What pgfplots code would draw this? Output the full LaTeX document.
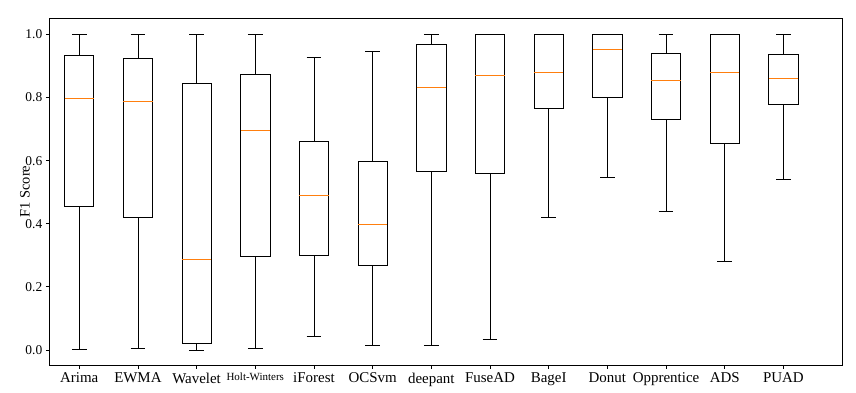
\documentclass[border=0pt]{standalone}
\usepackage{pgfplots}
\pgfplotsset{compat=1.18}
\usepgfplotslibrary{statistics}
\usepackage{fontspec}
\setmainfont{Liberation Serif}
\definecolor{mplorange}{HTML}{FF7F0E}
\begin{document}
\begin{tikzpicture}
\path[use as bounding box] (-49.3bp,-28bp) rectangle (806.7bp,365bp);
\begin{axis}[
  at={(0,0)}, anchor=south west,
  scale only axis, width=793.4bp, height=346.7bp,
  xmin=0.49, xmax=14.01, ymin=-0.0475, ymax=1.051,
  xtick={1,...,13},
  xticklabels={Arima,EWMA,Wavelet,{\fontsize{11}{11}\selectfont Holt-Winters},iForest,OCSvm,deepant,FuseAD,BageI,Donut,Opprentice,ADS,PUAD},
  ytick={0,0.2,0.4,0.6,0.8,1.0},
  yticklabel style={/pgf/number format/fixed,/pgf/number format/fixed zerofill,/pgf/number format/precision=1},
  /pgf/number format/assume math mode=true,
  tick align=outside, tick pos=left, major tick length=3.5bp,
  every tick/.style={black, line width=0.8bp},
  axis line style={line width=0.8bp},
  xticklabel style={font=\fontsize{15}{15}\selectfont, yshift=-1bp},
  yticklabel style={font=\fontsize{13.5}{14}\selectfont},
  ylabel={F1 Score},
  ylabel style={at={(axis description cs:-0.0307,0.5)}, anchor=center, font=\fontsize{14.5}{15}\selectfont},
  boxplot/draw direction=y,
  boxplot/box extend=0.5, boxplot/whisker extend=0.25,
  boxplot/every median/.style={draw=mplorange, line width=0.9bp},
  every axis plot/.append style={black, line width=0.8bp, solid},
]
\addplot[black, boxplot prepared={draw position=1, lower whisker=0.002, lower quartile=0.456, median=0.797, upper quartile=0.933, upper whisker=1.0}] coordinates {};
\addplot[black, boxplot prepared={draw position=2, lower whisker=0.005, lower quartile=0.420, median=0.789, upper quartile=0.924, upper whisker=1.0}] coordinates {};
\addplot[black, boxplot prepared={draw position=3, lower whisker=0.000, lower quartile=0.021, median=0.287, upper quartile=0.845, upper whisker=1.0}] coordinates {};
\addplot[black, boxplot prepared={draw position=4, lower whisker=0.005, lower quartile=0.297, median=0.697, upper quartile=0.873, upper whisker=1.0}] coordinates {};
\addplot[black, boxplot prepared={draw position=5, lower whisker=0.044, lower quartile=0.300, median=0.490, upper quartile=0.661, upper whisker=0.927}] coordinates {};
\addplot[black, boxplot prepared={draw position=6, lower whisker=0.015, lower quartile=0.267, median=0.399, upper quartile=0.598, upper whisker=0.945}] coordinates {};
\addplot[black, boxplot prepared={draw position=7, lower whisker=0.015, lower quartile=0.566, median=0.832, upper quartile=0.968, upper whisker=1.0}] coordinates {};
\addplot[black, boxplot prepared={draw position=8, lower whisker=0.034, lower quartile=0.560, median=0.870, upper quartile=1.0, upper whisker=1.0}] coordinates {};
\addplot[black, boxplot prepared={draw position=9, lower whisker=0.420, lower quartile=0.766, median=0.880, upper quartile=1.0, upper whisker=1.0}] coordinates {};
\addplot[black, boxplot prepared={draw position=10, lower whisker=0.547, lower quartile=0.800, median=0.952, upper quartile=1.0, upper whisker=1.0}] coordinates {};
\addplot[black, boxplot prepared={draw position=11, lower whisker=0.439, lower quartile=0.731, median=0.854, upper quartile=0.940, upper whisker=1.0}] coordinates {};
\addplot[black, boxplot prepared={draw position=12, lower whisker=0.281, lower quartile=0.655, median=0.880, upper quartile=1.0, upper whisker=1.0}] coordinates {};
\addplot[black, boxplot prepared={draw position=13, lower whisker=0.541, lower quartile=0.778, median=0.861, upper quartile=0.937, upper whisker=1.0}] coordinates {};
\end{axis}
\end{tikzpicture}
\end{document}
